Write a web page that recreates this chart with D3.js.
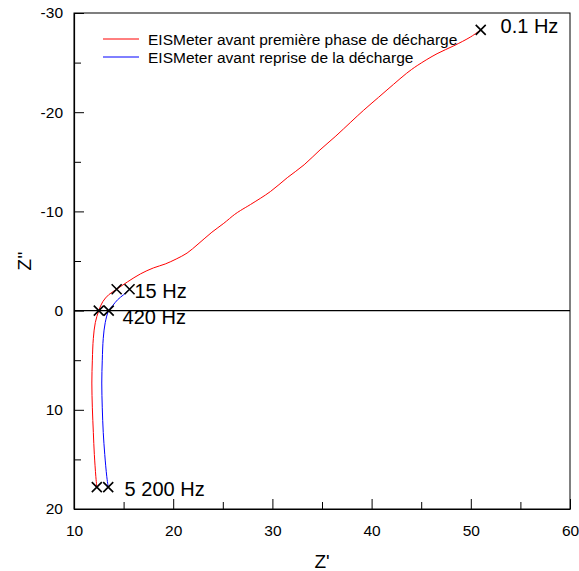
<!DOCTYPE html>
<html>
<head>
<meta charset="utf-8">
<script src="https://cdn.jsdelivr.net/npm/d3@7"></script>
<style>
  html, body { margin: 0; padding: 0; background: #fff; }
  svg { display: block; }
  text { font-family: "Liberation Sans", Arial, sans-serif; fill: #000; }
</style>
</head>
<body>
<svg id="chart" width="579" height="571"></svg>
<script>
// ---- data (Z' real part, Z'' imaginary part) ----
const redZr  = [12.3, 12.2, 12.05, 11.95, 11.85, 11.8, 11.85, 11.95, 12.15, 12.5, 12.9, 13.5, 14.3, 15.4, 16.7, 18.0, 19.2, 20.3, 21.4, 22.5, 23.9, 25.1, 26.2, 26.8, 27.8, 29.8, 31.5, 33.2, 34.8, 36.4, 37.9, 39.2, 40.7, 42.2, 43.5, 44.6, 46.6, 48.3, 50.0, 51.0];
const redZi  = [17.8, 16.7, 14.5, 12.3, 9.8, 7.3, 5.0, 2.8, 1.2, 0, -0.9, -1.6, -2.15, -2.9, -3.7, -4.3, -4.7, -5.2, -5.8, -6.7, -7.9, -8.8, -9.7, -10.1, -10.7, -12.0, -13.4, -14.7, -16.2, -17.6, -19.0, -20.2, -21.5, -22.8, -23.9, -24.7, -25.9, -26.7, -27.6, -28.3];
const blueZr = [13.45, 13.3, 13.1, 12.95, 12.85, 12.8, 12.85, 12.95, 13.15, 13.5, 13.9, 14.4, 15.0, 15.6];
const blueZi = [17.8, 16.7, 14.5, 12.3, 9.8, 7.3, 5.0, 2.8, 1.2, 0, -0.5, -1.1, -1.6, -2.15];

const markerZr = [51.0, 14.3, 15.6, 12.5, 13.5, 12.3, 13.45];
const markerZi = [-28.3, -2.15, -2.15, 0, 0, 17.8, 17.8];

const freqLabels = ["0.1 Hz", "15 Hz", "420 Hz", "5 200 Hz"];
const freqLabelZr = [53.0, 16.1, 14.9, 15.1];
const freqLabelZi = [-28.0, -1.3, 1.4, 18.7];

const seriesNames = ["EISMeter avant première phase de décharge", "EISMeter avant reprise de la décharge"];
const seriesColors = ["#ff0000", "#0000ff"];

const xTicks = [10, 20, 30, 40, 50, 60];
const yTicks = [-30, -20, -10, 0, 10, 20];
const xMinor = [15, 25, 35, 45, 55];
const yMinor = [-25, -15, -5, 5, 15];

// ---- layout ----
const svg = d3.select("#chart");
const L = 74, R = 570, T = 13, B = 509;

const x = d3.scaleLinear().domain([10, 60]).range([L, R]);
const y = d3.scaleLinear().domain([-30, 20]).range([T, B]);
const fmt = d => String(d);

// minor ticks
svg.append("g").attr("transform", `translate(0,${B})`)
  .call(d3.axisBottom(x).tickValues(xMinor).tickSize(-7).tickFormat(""))
  .call(g => g.select(".domain").remove())
  .selectAll("line").attr("stroke", "#000");
svg.append("g").attr("transform", `translate(${L},0)`)
  .call(d3.axisLeft(y).tickValues(yMinor).tickSize(-7).tickFormat(""))
  .call(g => g.select(".domain").remove())
  .selectAll("line").attr("stroke", "#000");

// major axes
const xAxis = svg.append("g").attr("transform", `translate(0,${B})`)
  .call(d3.axisBottom(x).tickValues(xTicks).tickFormat(fmt).tickSize(-10).tickSizeOuter(0).tickPadding(16));
const yAxis = svg.append("g").attr("transform", `translate(${L},0)`)
  .call(d3.axisLeft(y).tickValues(yTicks).tickFormat(fmt).tickSize(-10).tickSizeOuter(0).tickPadding(11));
[xAxis, yAxis].forEach(g => {
  g.selectAll("text").attr("font-size", 15.5).attr("font-family", "Liberation Sans, Arial, sans-serif").attr("fill", "#000");
  g.selectAll("line").attr("stroke", "#000");
  g.select(".domain").attr("stroke", "#000").attr("stroke-width", 1.2);
});

// frame
svg.append("rect").attr("x", L).attr("y", T).attr("width", R - L).attr("height", B - T)
  .attr("fill", "none").attr("stroke", "#000").attr("stroke-width", 1);

// zero line
svg.append("line").attr("x1", x(10)).attr("x2", x(60)).attr("y1", y(0)).attr("y2", y(0))
  .attr("stroke", "#000").attr("stroke-width", 1.2);

// curves
const line = d3.line().x(d => x(d[0])).y(d => y(d[1])).curve(d3.curveCatmullRom);
const redData = redZr.map((v, i) => [v, redZi[i]]);
const blueData = blueZr.map((v, i) => [v, blueZi[i]]);
svg.append("path").datum(redData).attr("d", line).attr("fill", "none").attr("stroke", seriesColors[0]).attr("stroke-width", 1);
svg.append("path").datum(blueData).attr("d", line).attr("fill", "none").attr("stroke", seriesColors[1]).attr("stroke-width", 1);

// markers (crosses)
const markers = markerZr.map((v, i) => [v, markerZi[i]]);
svg.append("g").selectAll("path").data(markers).join("path")
  .attr("d", d => {
    const cx = x(d[0]), cy = y(d[1]), s = 5;
    return `M${cx - s},${cy - s}L${cx + s},${cy + s}M${cx - s},${cy + s}L${cx + s},${cy - s}`;
  })
  .attr("stroke", "#000").attr("stroke-width", 1.6).attr("fill", "none");

// frequency labels
svg.append("g").selectAll("text").data(freqLabels).join("text")
  .attr("x", (d, i) => x(freqLabelZr[i]))
  .attr("y", (d, i) => y(freqLabelZi[i]))
  .attr("font-size", 20)
  .text(d => d);

// legend
const lg = svg.append("g");
seriesNames.forEach((name, i) => {
  const yy = 39 + i * 18;
  lg.append("line").attr("x1", 103).attr("x2", 139).attr("y1", yy).attr("y2", yy)
    .attr("stroke", seriesColors[i]).attr("stroke-width", 1);
  lg.append("text").attr("x", 148).attr("y", yy + 6).attr("font-size", 15.5).text(name);
});

// axis titles
svg.append("text").attr("x", (L + R) / 2).attr("y", 568).attr("text-anchor", "middle")
  .attr("font-size", 19).text("Z'");
svg.append("text").attr("transform", `translate(31,${(T + B) / 2}) rotate(-90)`)
  .attr("text-anchor", "middle").attr("font-size", 19).text("Z''");
</script>
</body>
</html>
